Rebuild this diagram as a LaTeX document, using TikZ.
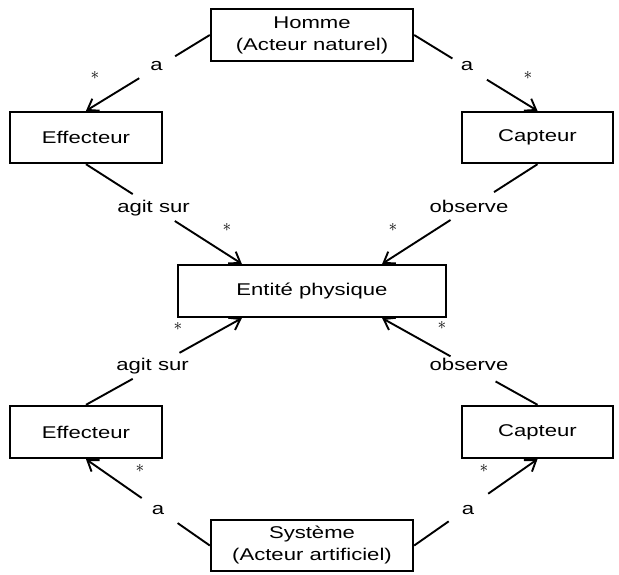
\documentclass[tikz,border=0pt]{standalone}
\usepackage{fontspec}
\setmainfont{Liberation Sans}
\usetikzlibrary{arrows.meta,calc}
\newcommand{\hstr}[1]{\scalebox{1.3}[1]{#1}}
\begin{document}
\begin{tikzpicture}[x=1pt,y=-1pt,
  box/.style={draw,line width=2.4pt,rectangle,inner sep=0pt,font=\fontsize{17}{22}\selectfont},
  conn/.style={line width=1.9pt},
  arr/.style={conn,-{Straight Barb[length=10pt,width=14pt]}},
  lbl/.style={font=\fontsize{17}{22}\selectfont,inner sep=0pt,anchor=base},
  mult/.style={font=\fontsize{17}{20}\selectfont,inner sep=0pt}]
\useasboundingbox (0,0) rectangle (619,574);
% boxes
\node[box,minimum width=202pt,minimum height=52pt] (homme) at (312,35)
  {\hstr{\begin{tabular}{@{}c@{}}Homme\\(Acteur naturel)\end{tabular}}};
\node[box,minimum width=152pt,minimum height=51pt] (efft) at (86,137.5) {\hstr{Effecteur}};
\node[box,minimum width=151pt,minimum height=51pt] (capt) at (537.5,137.5) {\hstr{Capteur}};
\node[box,minimum width=268pt,minimum height=52pt] (ent) at (312,291) {\hstr{Entité physique}};
\node[box,minimum width=152pt,minimum height=52pt] (effb) at (86,432) {\hstr{Effecteur}};
\node[box,minimum width=151pt,minimum height=52pt] (capb) at (537.5,432) {\hstr{Capteur}};
\node[box,minimum width=202pt,minimum height=51pt] (sys) at (312,545.5)
  {\hstr{\begin{tabular}{@{}c@{}}Système\\(Acteur artificiel)\end{tabular}}};
% anchor points on Entité
\coordinate (entNW) at ($(ent.north west)+(65,0)$);
\coordinate (entNE) at ($(ent.north east)+(-65,0)$);
\coordinate (entSW) at ($(ent.south west)+(65,0)$);
\coordinate (entSE) at ($(ent.south east)+(-65,0)$);
% Homme -> Effecteur
\draw[conn] (homme.west) -- ($(homme.west)!0.28!(efft.north)$);
\draw[arr] ($(homme.west)!0.57!(efft.north)$) -- (efft.north);
\node[lbl] (l1) at (156.5,70) {\hstr{a}};
\node[mult] (m1) at (95,75) {$\ast$};
% Homme -> Capteur
\draw[conn] (homme.east) -- ($(homme.east)!0.31!(capt.north)$);
\draw[arr] ($(homme.east)!0.59!(capt.north)$) -- (capt.north);
\node[lbl] (l2) at (467,70) {\hstr{a}};
\node[mult] (m2) at (528,75) {$\ast$};
% Effecteur -> Entité (top)
\draw[conn] (efft.south) -- ($(efft.south)!0.30!(entNW)$);
\draw[arr] ($(efft.south)!0.57!(entNW)$) -- (entNW);
\node[lbl] (l3) at (153.5,212) {\hstr{agit sur}};
\node[mult] (m3) at (227,227) {$\ast$};
% Capteur -> Entité (top)
\draw[conn] (capt.south) -- ($(capt.south)!0.28!(entNE)$);
\draw[arr] ($(capt.south)!0.56!(entNE)$) -- (entNE);
\node[lbl] (l4) at (469,212) {\hstr{observe}};
\node[mult] (m4) at (393,227) {$\ast$};
% Effecteur -> Entité (bottom)
\draw[conn] (effb.north) -- ($(effb.north)!0.30!(entSW)$);
\draw[arr] ($(effb.north)!0.60!(entSW)$) -- (entSW);
\node[lbl] (l5) at (152.5,370) {\hstr{agit sur}};
\node[mult] (m5) at (178,326) {$\ast$};
% Capteur -> Entité (bottom)
\draw[conn] (capb.north) -- ($(capb.north)!0.27!(entSE)$);
\draw[arr] ($(capb.north)!0.56!(entSE)$) -- (entSE);
\node[lbl] (l6) at (469,370) {\hstr{observe}};
\node[mult] (m6) at (442,325) {$\ast$};
% Système -> Effecteur
\draw[conn] (sys.west) -- ($(sys.west)!0.26!(effb.south)$);
\draw[arr] ($(sys.west)!0.55!(effb.south)$) -- (effb.south);
\node[lbl] (l7) at (158,514) {\hstr{a}};
\node[mult] (m7) at (140,468) {$\ast$};
% Système -> Capteur
\draw[conn] (sys.east) -- ($(sys.east)!0.28!(capb.south)$);
\draw[arr] ($(sys.east)!0.60!(capb.south)$) -- (capb.south);
\node[lbl] (l8) at (468,514) {\hstr{a}};
\node[mult] (m8) at (484,468) {$\ast$};
\end{tikzpicture}
\end{document}
